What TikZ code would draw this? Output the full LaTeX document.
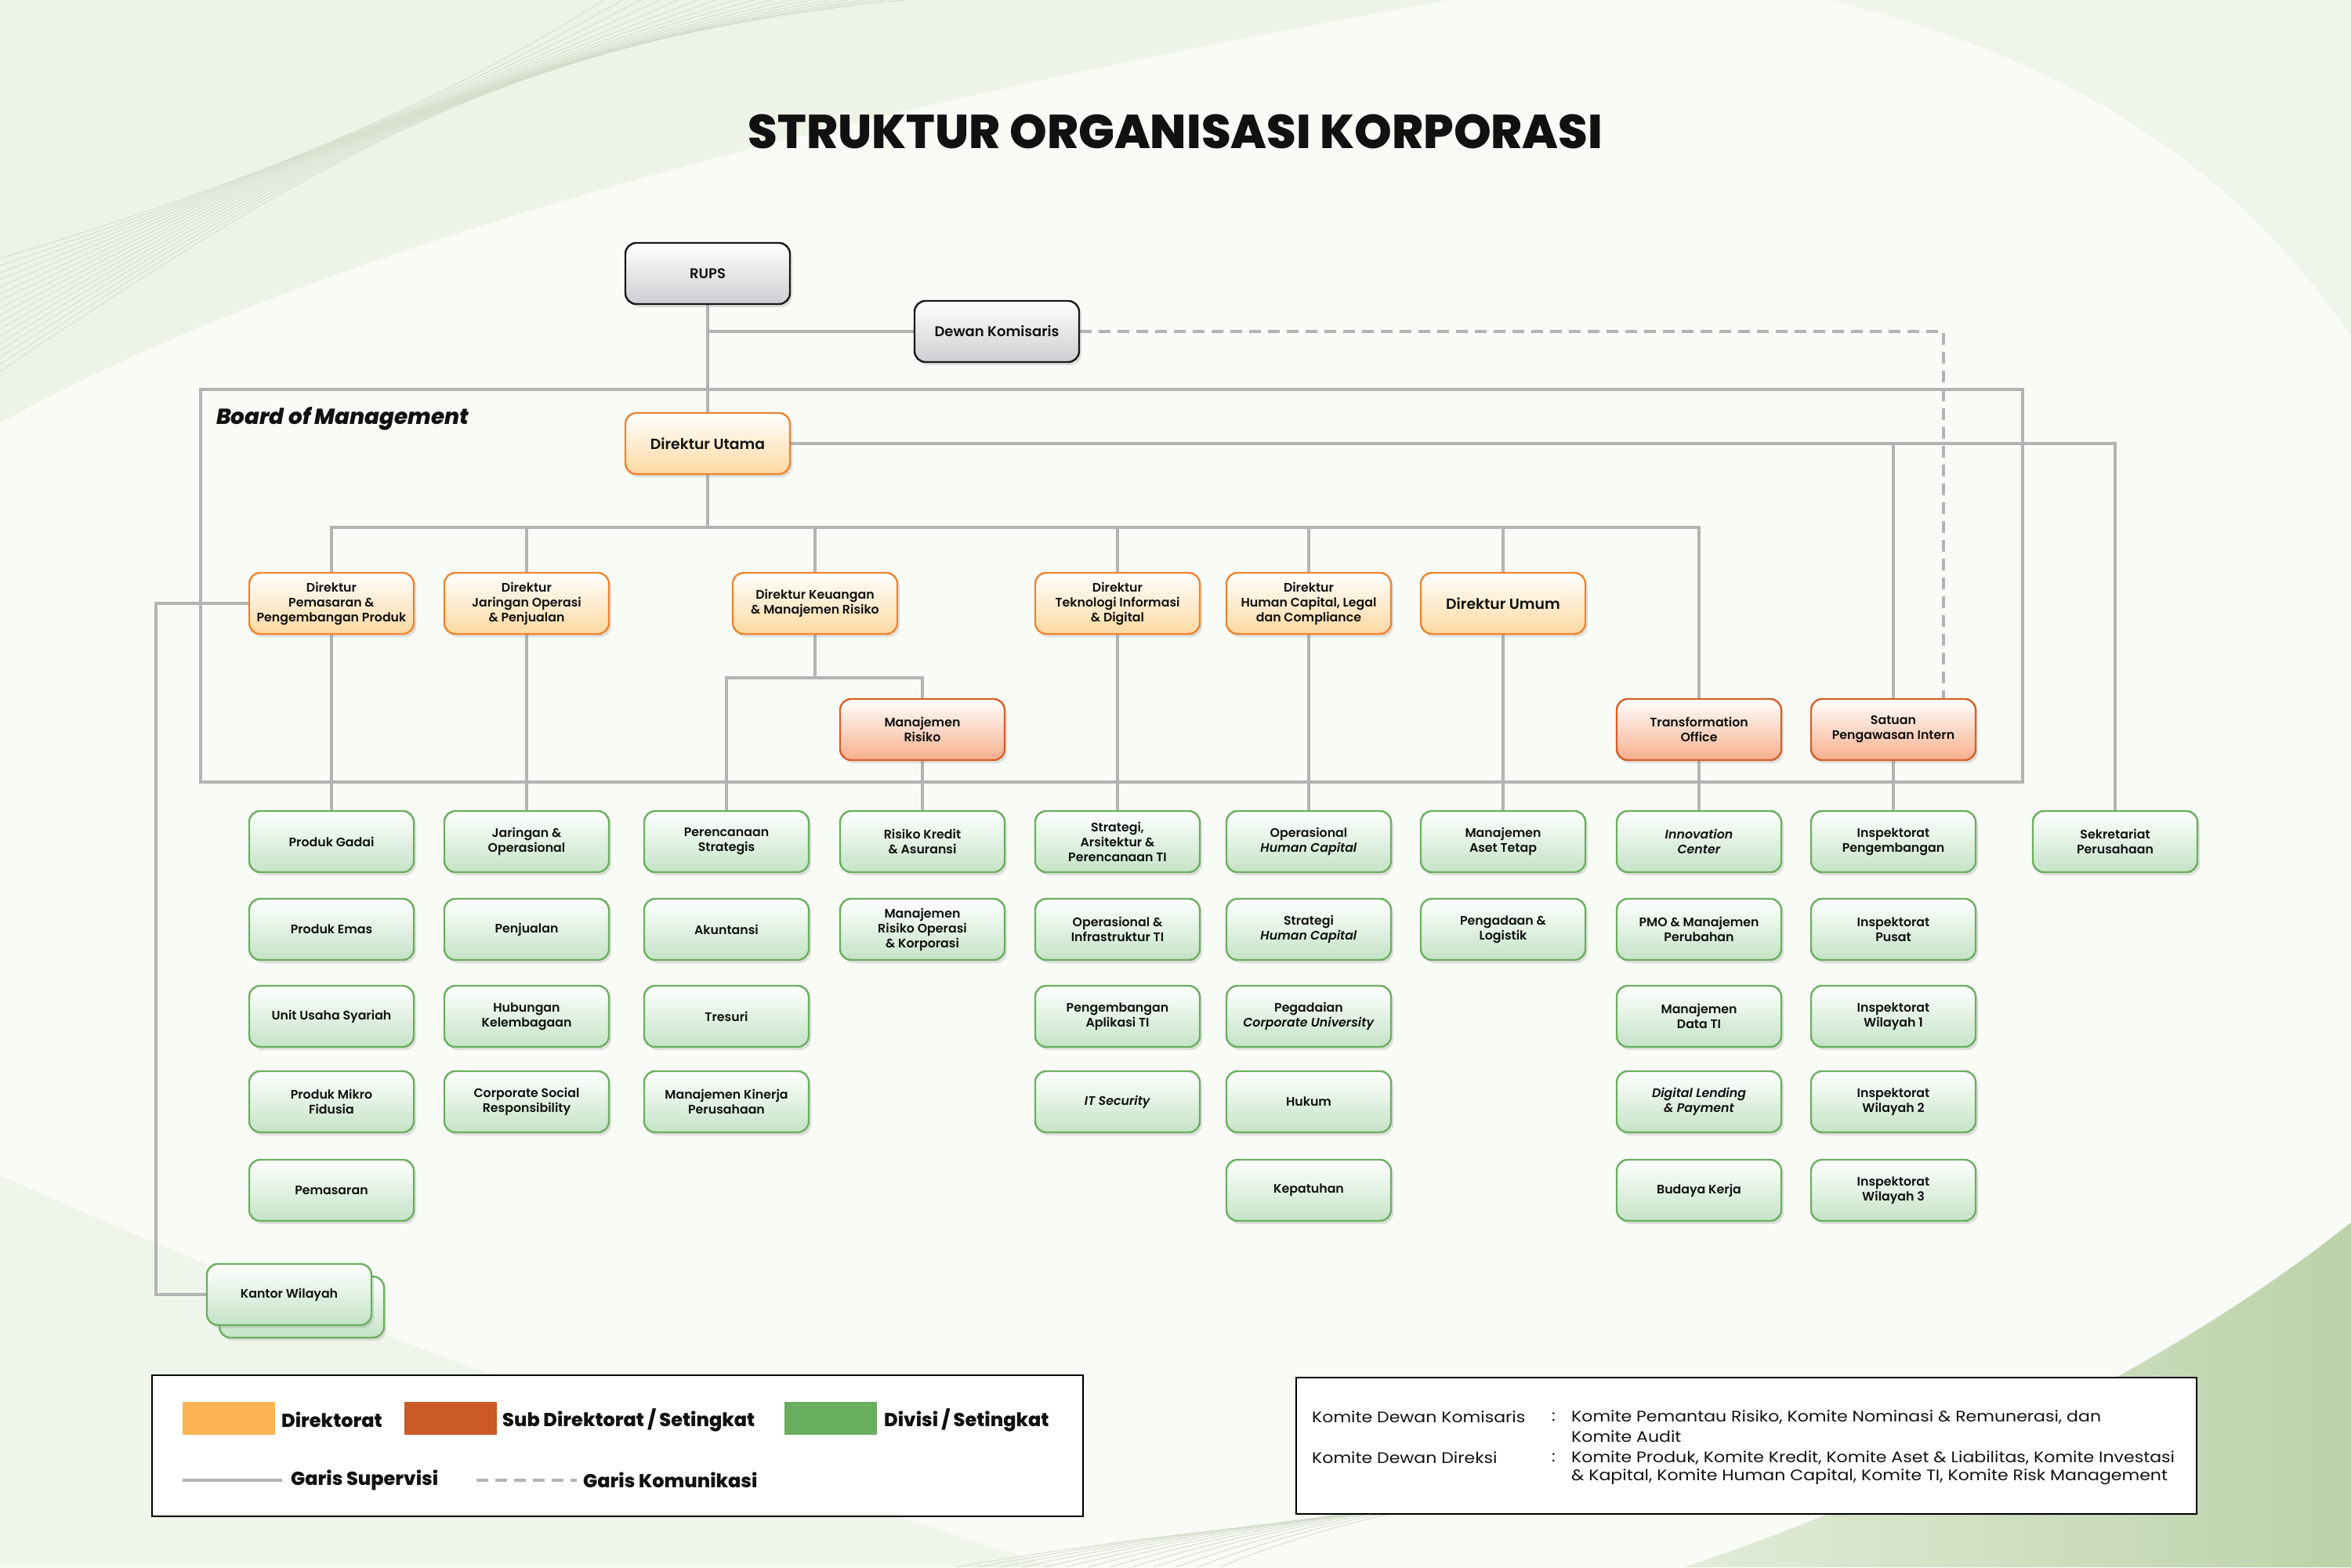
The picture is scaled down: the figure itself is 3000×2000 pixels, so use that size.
\documentclass[tikz,border=0pt]{standalone}
\usepackage{fontspec}
\setmainfont{Poppins}
\newfontfamily\sbfont{Poppins SemiBold}[ItalicFont={Poppins SemiBold Italic}]
\newfontfamily\xbfont{Poppins ExtraBold}[ItalicFont={Poppins ExtraBold Italic}]
\newfontfamily\komfont{Poppins}[FakeStretch=1.13]
\usetikzlibrary{shadows}
\pgfdeclarelayer{bgart}
\pgfdeclarelayer{lines}
\pgfsetlayers{bgart,lines,main}

\definecolor{linec}{HTML}{B3B3B3}
\definecolor{txt}{HTML}{111111}
\definecolor{gline}{HTML}{6BAF60}
\definecolor{gfill}{HTML}{C4E3C6}
\definecolor{oline}{HTML}{EC8530}
\definecolor{ofill}{HTML}{FDD9A0}
\definecolor{rline}{HTML}{D4602A}
\definecolor{rfill}{HTML}{F6AE8C}
\definecolor{kfill}{HTML}{CDCED1}
\definecolor{swo}{HTML}{FBB353}
\definecolor{swr}{HTML}{CC5A28}
\definecolor{swg}{HTML}{69AD5E}
\definecolor{bgbase}{HTML}{F9FBF7}
\definecolor{bgpale}{HTML}{EDF4E7}
\definecolor{bgpaleb}{HTML}{F0F5EB}
\definecolor{bggra}{HTML}{E2ECD8}
\definecolor{bggrb}{HTML}{BCD2A9}
\definecolor{bgline}{HTML}{D3DCCB}

\newcommand\nf{\sbfont\fontsize{15.8}{19}\selectfont}
\newcommand\nfbig{\sbfont\fontsize{18.8}{22}\selectfont}
\newcommand\nfk{\sbfont\fontsize{18}{21}\selectfont}

\tikzset{
  unit/.style={rounded corners=14pt, minimum width=210pt, minimum height=78pt,
    align=center, line width=2.4pt, font=\nf, text=txt, inner sep=2pt,
    drop shadow={shadow xshift=3pt, shadow yshift=-4pt, opacity=0.22}},
  gbox/.style={unit, draw=gline, top color=white, bottom color=gfill},
  obox/.style={unit, draw=oline, top color=white, bottom color=ofill},
  rbox/.style={unit, draw=rline, top color=white, bottom color=rfill},
  kbox/.style={unit, draw=black!90, top color=white, bottom color=kfill, font=\nfk},
  conn/.style={draw=linec, line width=3.5pt},
  comm/.style={draw=linec, line width=3.5pt, dash pattern=on 15pt off 9pt},
  bomframe/.style={draw=linec, line width=4.5pt, inner sep=0pt},
  legbox/.style={draw=black, line width=1.6pt, fill=white, inner sep=0pt,
    drop shadow={shadow xshift=2pt, shadow yshift=-2pt, opacity=0.15}},
  swatch/.style={minimum width=118pt, minimum height=42pt, inner sep=0pt},
  legtxt/.style={anchor=west, font=\xbfont\fontsize{24}{28}\selectfont, text=txt, inner sep=0pt},
  komtxt/.style={anchor=west, font=\komfont\fontsize{19.5}{23}\selectfont, text=txt, inner sep=0pt},
  bgl/.style={draw=bgline, line width=0.9pt},
}

\begin{document}
\begin{tikzpicture}[x=1pt,y=-1pt]
\useasboundingbox (0,0) rectangle (3000,2000);

% ---------------- background art
\begin{pgfonlayer}{bgart}
\fill[bgbase] (0,0) rectangle (3000,2000);
\fill[bgpale] (0,0) -- (1850,0) .. controls (1350,90) and (500,260) .. (0,540) -- cycle;
\fill[bgpaleb] (2330,0) -- (3000,0) -- (3000,430) .. controls (2880,250) and (2680,80) .. (2330,0) -- cycle;
\fill[bgpaleb] (0,1500) .. controls (400,1680) and (900,1860) .. (1350,2000) -- (0,2000) -- cycle;
\shade[left color=bggra, right color=bggrb] (2150,2000) .. controls (2500,1880) and (2800,1720) .. (3000,1560) -- (3000,2000) -- cycle;
\foreach \i in {0,...,16} {
  \draw[bgl] (0,{330+9*\i}) .. controls ({260+12*\i},{250-5*\i}) and ({520+10*\i},{160-7*\i}) .. ({770+24*\i},0);
}
\foreach \i in {0,...,12} {
  \draw[bgl] ({1220+28*\i},2000) .. controls ({1500+22*\i},{1950-3*\i}) and ({1800+15*\i},{1930-3*\i}) .. ({2150+30*\i},{1890-8*\i});
}
\end{pgfonlayer}

% ---------------- title
\node[font=\xbfont\fontsize{60.7}{66}\selectfont, text=txt] (title) at (1500,168) {STRUKTUR ORGANISASI KORPORASI};

% ---------------- board of management frame
\node[bomframe, minimum width=2325pt, minimum height=501pt] (bomf) at (1418.5,747.5) {};
\node[anchor=west, font=\xbfont\itshape\fontsize{27.8}{32}\selectfont, text=txt, inner sep=0pt] (bom) at (276,534) {Board of Management};

% ---------------- top
\node[kbox] (rups) at (903,349) {RUPS};
\node[kbox] (dk) at (1272,423) {Dewan Komisaris};
\node[obox, font=\nfbig] (dirut) at (903,566) {Direktur Utama};

% ---------------- directors
\node[obox] (dpem) at (423,770) {Direktur\\Pemasaran \&\\Pengembangan Produk};
\node[obox] (djar) at (672,770) {Direktur\\Jaringan Operasi\\\& Penjualan};
\node[obox] (dkeu) at (1040,770) {Direktur Keuangan\\\& Manajemen Risiko};
\node[obox] (dti) at (1426,770) {Direktur\\Teknologi Informasi\\\& Digital};
\node[obox] (dhc) at (1670,770) {Direktur\\Human Capital, Legal\\dan Compliance};
\node[obox, font=\nfbig] (dum) at (1918,770) {Direktur Umum};

% ---------------- sub directorates
\node[rbox] (mr) at (1177,931) {Manajemen\\Risiko};
\node[rbox] (tro) at (2168,931) {Transformation\\Office};
\node[rbox] (spi) at (2416,931) {Satuan\\Pengawasan Intern};

% ---------------- divisions
\node[gbox] (c1a) at (423,1074) {Produk Gadai};
\node[gbox] (c1b) at (423,1186) {Produk Emas};
\node[gbox] (c1c) at (423,1297) {Unit Usaha Syariah};
\node[gbox] (c1d) at (423,1406) {Produk Mikro\\Fidusia};
\node[gbox] (c1e) at (423,1519) {Pemasaran};

\node[gbox] (c2a) at (672,1074) {Jaringan \&\\Operasional};
\node[gbox] (c2b) at (672,1186) {Penjualan};
\node[gbox] (c2c) at (672,1297) {Hubungan\\Kelembagaan};
\node[gbox] (c2d) at (672,1406) {Corporate Social\\Responsibility};

\node[gbox] (c3a) at (927,1074) {Perencanaan\\Strategis};
\node[gbox] (c3b) at (927,1186) {Akuntansi};
\node[gbox] (c3c) at (927,1297) {Tresuri};
\node[gbox] (c3d) at (927,1406) {Manajemen Kinerja\\Perusahaan};

\node[gbox] (c4a) at (1177,1074) {Risiko Kredit\\\& Asuransi};
\node[gbox] (c4b) at (1177,1186) {Manajemen\\Risiko Operasi\\\& Korporasi};

\node[gbox] (c5a) at (1426,1074) {Strategi,\\Arsitektur \&\\Perencanaan TI};
\node[gbox] (c5b) at (1426,1186) {Operasional \&\\Infrastruktur TI};
\node[gbox] (c5c) at (1426,1297) {Pengembangan\\Aplikasi TI};
\node[gbox] (c5d) at (1426,1406) {\textit{IT Security}};

\node[gbox] (c6a) at (1670,1074) {Operasional\\\textit{Human Capital}};
\node[gbox] (c6b) at (1670,1186) {Strategi\\\textit{Human Capital}};
\node[gbox] (c6c) at (1670,1297) {Pegadaian\\\textit{Corporate University}};
\node[gbox] (c6d) at (1670,1406) {Hukum};
\node[gbox] (c6e) at (1670,1519) {Kepatuhan};

\node[gbox] (c7a) at (1918,1074) {Manajemen\\Aset Tetap};
\node[gbox] (c7b) at (1918,1186) {Pengadaan \&\\Logistik};

\node[gbox] (c8a) at (2168,1074) {\textit{Innovation}\\\textit{Center}};
\node[gbox] (c8b) at (2168,1186) {PMO \& Manajemen\\Perubahan};
\node[gbox] (c8c) at (2168,1297) {Manajemen\\Data TI};
\node[gbox] (c8d) at (2168,1406) {\textit{Digital Lending}\\\textit{\& Payment}};
\node[gbox] (c8e) at (2168,1519) {Budaya Kerja};

\node[gbox] (c9a) at (2416,1074) {Inspektorat\\Pengembangan};
\node[gbox] (c9b) at (2416,1186) {Inspektorat\\Pusat};
\node[gbox] (c9c) at (2416,1297) {Inspektorat\\Wilayah 1};
\node[gbox] (c9d) at (2416,1406) {Inspektorat\\Wilayah 2};
\node[gbox] (c9e) at (2416,1519) {Inspektorat\\Wilayah 3};

\node[gbox] (sek) at (2699,1074) {Sekretariat\\Perusahaan};

\node[gbox] (kwb) at (385,1668) {};
\node[gbox] (kw) at (369,1652) {Kantor Wilayah};

% ---------------- connectors
\coordinate (bus) at (0,673);
\coordinate (busk) at (0,865);
\coordinate (kwx) at (199,0);
\coordinate (dashx) at (2480,0);

\begin{pgfonlayer}{lines}
\draw[conn] (rups.south) -- (dirut.north);
\draw[conn] (dk.west) -- (dk.west -| rups.south);
\draw[comm] (dk.east) -- (dk.east -| dashx) -- (dashx |- spi.north);
\draw[conn] (dirut.east) -| (sek.north);
\draw[conn] (spi.north) -- (spi.north |- dirut.east);
\draw[conn] (dirut.south) -- (dirut.south |- bus);
\draw[conn] (dpem.north) -- (dpem.north |- bus) -- (tro.north |- bus) -- (tro.north);
\foreach \n in {djar,dkeu,dti,dhc,dum} {\draw[conn] (\n.north) -- (\n.north |- bus);}
\draw[conn] (dpem.south) -- (c1a.north);
\draw[conn] (djar.south) -- (c2a.north);
\draw[conn] (dkeu.south) -- (dkeu.south |- busk);
\draw[conn] (c3a.north) -- (c3a.north |- busk) -- (mr.north |- busk) -- (mr.north);
\draw[conn] (mr.south) -- (c4a.north);
\draw[conn] (dti.south) -- (c5a.north);
\draw[conn] (dhc.south) -- (c6a.north);
\draw[conn] (dum.south) -- (c7a.north);
\draw[conn] (tro.south) -- (c8a.north);
\draw[conn] (spi.south) -- (c9a.north);
\draw[conn] (dpem.west) -- (dpem.west -| kwx) -- (kwx |- kw.west) -- (kw.west);
\end{pgfonlayer}

% ---------------- legend
\node[legbox, minimum width=1188pt, minimum height=180pt] (leg) at (788,1845) {};
\node[swatch, fill=swo] (sw1) at (292,1810) {};
\node[legtxt] (lt1) at (359,1812) {Direktorat};
\node[swatch, fill=swr] (sw2) at (575,1810) {};
\node[legtxt] (lt2) at (641,1812) {Sub Direktorat / Setingkat};
\node[swatch, fill=swg] (sw3) at (1060,1810) {};
\node[legtxt] (lt3) at (1128,1812) {Divisi / Setingkat};
\coordinate (supa) at (233,1889);
\coordinate (supb) at (360,1889);
\draw[conn, line width=4.5pt] (supa) -- (supb);
\node[legtxt] (lt4) at (371,1889) {Garis Supervisi};
\coordinate (koma) at (608,1889);
\coordinate (komb) at (736,1889);
\draw[comm, line width=4.5pt] (koma) -- (komb);
\node[legtxt] (lt5) at (744,1889) {Garis Komunikasi};

% ---------------- committees
\node[legbox, minimum width=1149pt, minimum height=174pt] (kom) at (2228.5,1845) {};
\node[komtxt] (k1) at (1674,1808) {Komite Dewan Komisaris};
\node[komtxt] (k1c) at (1980,1808) {:};
\node[komtxt] (k1t) at (2005,1808) {Komite Pemantau Risiko, Komite Nominasi \& Remunerasi, dan};
\node[komtxt] (k1u) at (2005,1833) {Komite Audit};
\node[komtxt] (k2) at (1674,1860) {Komite Dewan Direksi};
\node[komtxt] (k2c) at (1980,1860) {:};
\node[komtxt] (k2t) at (2005,1860) {Komite Produk, Komite Kredit, Komite Aset \& Liabilitas, Komite Investasi};
\node[komtxt] (k2u) at (2005,1885) {\& Kapital, Komite Human Capital, Komite TI, Komite Risk Management};

\end{tikzpicture}
\end{document}
